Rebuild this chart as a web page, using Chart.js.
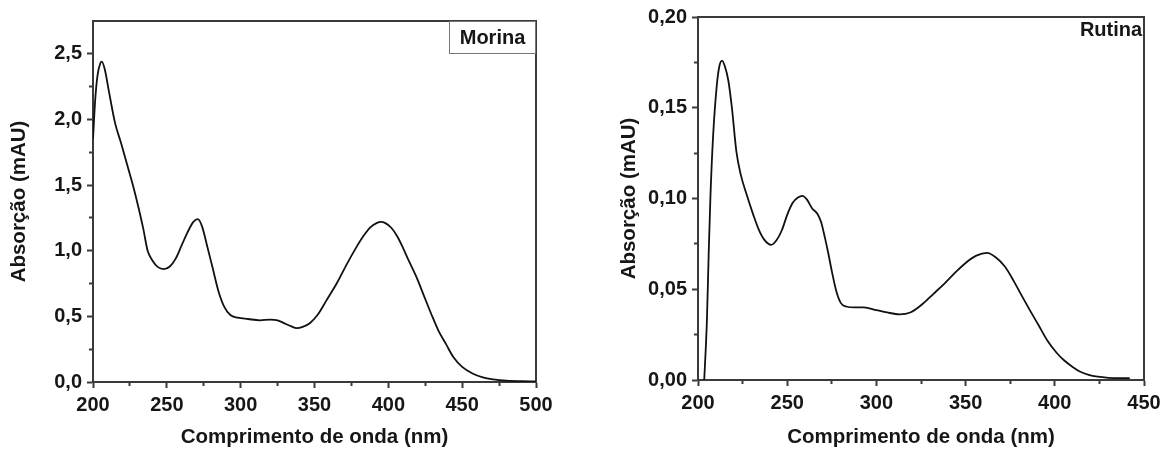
<!DOCTYPE html>
<html>
<head>
<meta charset="utf-8">
<script src="https://cdn.jsdelivr.net/npm/chart.js@4.4.0/dist/chart.umd.min.js"></script>
<style>
  body { margin: 0; background: #fff; width: 1168px; height: 452px; overflow: hidden; position: relative; }
  .painel { position: absolute; top: 0; width: 584px; height: 452px; }
</style>
</head>
<body>
<div class="painel" style="left:0"><canvas id="chart-morina" width="584" height="452"></canvas></div>
<div class="painel" style="left:584px"><canvas id="chart-rutina" width="584" height="452"></canvas></div>
<script>
// espectro Morina
var morinaWl  = [200, 201.5, 203, 205, 206, 208, 211, 215, 219, 223, 227, 231, 234, 237, 240, 244, 248, 252, 256, 260, 264, 268, 271, 274, 277, 281, 285, 289, 293, 298, 305, 313, 320, 325, 330, 334, 338, 342, 347, 352, 358, 365, 372, 378, 383, 388, 392, 395, 398, 402, 406, 410, 414, 419, 424, 429, 434, 439, 444, 450, 457, 464, 471, 480, 490, 500];
var morinaAbs = [1.85, 2.15, 2.33, 2.43, 2.44, 2.38, 2.2, 1.97, 1.82, 1.66, 1.5, 1.32, 1.17, 1.0, 0.93, 0.875, 0.86, 0.88, 0.94, 1.04, 1.14, 1.22, 1.24, 1.18, 1.05, 0.87, 0.69, 0.57, 0.51, 0.49, 0.48, 0.47, 0.475, 0.47, 0.445, 0.425, 0.41, 0.42, 0.45, 0.51, 0.62, 0.75, 0.9, 1.02, 1.11, 1.18, 1.21, 1.22, 1.21, 1.175, 1.11, 1.02, 0.92, 0.8, 0.66, 0.52, 0.39, 0.29, 0.19, 0.115, 0.065, 0.035, 0.02, 0.01, 0.006, 0.004];

// espectro Rutina
var rutinaWl  = [203.5, 205, 206, 207, 208.5, 210.5, 212, 213.5, 215, 217, 219, 221.5, 224, 227, 231, 234, 237, 241, 244, 247, 250, 253, 256, 258.5, 261, 264, 267, 269, 271, 273, 275, 277.5, 280, 283, 288, 293, 300, 306, 313, 319, 326, 332, 338, 344, 350, 356, 362, 367, 372, 377, 382, 386, 391, 396, 401, 405, 410, 414, 419, 424, 430, 436, 442];
var rutinaAbs = [0, 0.033, 0.07, 0.102, 0.135, 0.162, 0.173, 0.176, 0.173, 0.165, 0.150, 0.126, 0.113, 0.103, 0.091, 0.083, 0.0775, 0.0745, 0.077, 0.0825, 0.091, 0.0975, 0.1005, 0.1015, 0.0995, 0.0945, 0.0915, 0.087, 0.079, 0.07, 0.06, 0.049, 0.0425, 0.0405, 0.04, 0.04, 0.0385, 0.0372, 0.0362, 0.0372, 0.042, 0.0475, 0.053, 0.059, 0.0645, 0.0685, 0.07, 0.0675, 0.0625, 0.0545, 0.0455, 0.0385, 0.03, 0.0215, 0.015, 0.011, 0.0072, 0.0047, 0.0028, 0.0018, 0.0012, 0.001, 0.001];

var corEixo = '#3a3a3a';
var corTexto = '#161616';
var fonteTick = { size: 20, weight: 'bold', family: '"Liberation Sans", Arial, sans-serif' };
var fonteTitulo = { size: 20.5, weight: 'bold', family: '"Liberation Sans", Arial, sans-serif' };

function pontos(xs, ys) {
  var out = [];
  for (var i = 0; i < xs.length; i++) out.push({ x: xs[i], y: ys[i] });
  return out;
}

function ehMenor(v, passo) {
  var r = v / passo;
  return Math.abs(r - Math.round(r)) > 1e-6;
}

// caixa com nome da amostra
var rotuloAmostra = {
  id: 'rotuloAmostra',
  afterDraw: function (chart, args, opts) {
    var ctx = chart.ctx, area = chart.chartArea;
    ctx.save();
    if (opts.caixa) {
      ctx.strokeStyle = '#777';
      ctx.lineWidth = 1;
      ctx.strokeRect(area.right - opts.largura + 0.5, area.top + 0.5, opts.largura - 1, opts.altura);
    }
    ctx.fillStyle = corTexto;
    ctx.font = 'bold 20px "Liberation Sans", Arial, sans-serif';
    ctx.textBaseline = 'middle';
    ctx.textAlign = 'center';
    ctx.fillText(opts.texto, area.right - opts.largura / 2 + opts.dx, area.top + opts.dy);
    ctx.restore();
  }
};

function criaGrafico(id, cfg) {
  var ctx = document.getElementById(id).getContext('2d');
  return new Chart(ctx, {
    type: 'line',
    data: {
      datasets: [{
        label: cfg.nome,
        data: pontos(cfg.xs, cfg.ys),
        borderColor: '#111',
        borderWidth: 1.8,
        pointRadius: 0,
        tension: 0.35,
        cubicInterpolationMode: 'monotone',
        fill: false
      }]
    },
    options: {
      responsive: false,
      animation: false,
      devicePixelRatio: 1,
      layout: { padding: cfg.padding },
      plugins: {
        legend: { display: false },
        tooltip: { enabled: false },
        rotuloAmostra: cfg.rotulo
      },
      scales: {
        x: {
          type: 'linear',
          position: 'bottom',
          min: cfg.xMin, max: cfg.xMax,
          afterFit: function (s) { s.height = cfg.altX; },
          border: { display: true, color: corEixo, width: 2 },
          grid: {
            drawOnChartArea: false,
            tickLength: 6,
            tickWidth: 2,
            tickColor: corEixo,
            tickBorderDash: function (c) { return ehMenor(c.tick.value, 50) ? [3, 20] : []; }
          },
          ticks: {
            stepSize: 25, autoSkip: false, maxRotation: 0, padding: 5,
            color: corTexto, font: fonteTick,
            callback: function (v) { return ehMenor(v, 50) ? '' : String(v); }
          },
          title: {
            display: true, text: 'Comprimento de onda (nm)', color: corTexto, font: fonteTitulo,
            padding: { top: 0, bottom: 2 }
          }
        },
        y: {
          type: 'linear',
          position: 'left',
          min: 0, max: cfg.yMax,
          afterFit: function (s) { s.width = cfg.largY; },
          border: { display: true, color: corEixo, width: 2 },
          grid: {
            drawOnChartArea: false,
            tickLength: 6,
            tickWidth: 2,
            tickColor: function (c) { return c.tick.value > cfg.yMax - 1e-9 && cfg.semTickTopo ? 'rgba(0,0,0,0)' : corEixo; },
            tickBorderDash: function (c) { return ehMenor(c.tick.value, cfg.yMaior) ? [0, 2, 3, 20] : []; }
          },
          ticks: {
            stepSize: cfg.yMaior / 2, autoSkip: false, padding: 5,
            color: corTexto, font: fonteTick,
            callback: function (v) { return ehMenor(v, cfg.yMaior) ? '' : v.toFixed(cfg.casas).replace('.', ','); }
          },
          title: {
            display: true, text: 'Absorção (mAU)', color: corTexto, font: fonteTitulo,
            padding: { top: cfg.padTituloY, bottom: 0 }
          }
        },
        xTopo: {
          type: 'linear', position: 'top', min: cfg.xMin, max: cfg.xMax,
          afterFit: function (s) { s.height = 0; },
          border: { display: true, color: corEixo, width: 2 },
          grid: { drawOnChartArea: false, drawTicks: false },
          ticks: { display: false }
        },
        yDir: {
          type: 'linear', position: 'right', min: 0, max: cfg.yMax,
          afterFit: function (s) { s.width = 0; },
          border: { display: true, color: corEixo, width: 2 },
          grid: { drawOnChartArea: false, drawTicks: false },
          ticks: { display: false }
        }
      }
    },
    plugins: [rotuloAmostra]
  });
}

var grafico_morina = criaGrafico('chart-morina', {
  nome: 'Morina', xs: morinaWl, ys: morinaAbs,
  xMin: 200, xMax: 500, yMax: 2.75, yMaior: 0.5, casas: 1, semTickTopo: true,
  padding: { left: 0, right: 48, top: 21, bottom: 0 },
  largY: 93, altX: 70, padTituloY: 7,
  rotulo: { texto: 'Morina', caixa: true, largura: 87, altura: 32, dx: 0, dy: 17 }
});

var grafico_rutina = criaGrafico('chart-rutina', {
  nome: 'Rutina', xs: rutinaWl, ys: rutinaAbs,
  xMin: 200, xMax: 450, yMax: 0.2, yMaior: 0.05, casas: 2, semTickTopo: false,
  padding: { left: 0, right: 24, top: 15, bottom: 0 },
  largY: 114, altX: 72, padTituloY: 33,
  rotulo: { texto: 'Rutina', caixa: false, largura: 66, altura: 30, dx: 0, dy: 13 }
});
</script>
</body>
</html>
